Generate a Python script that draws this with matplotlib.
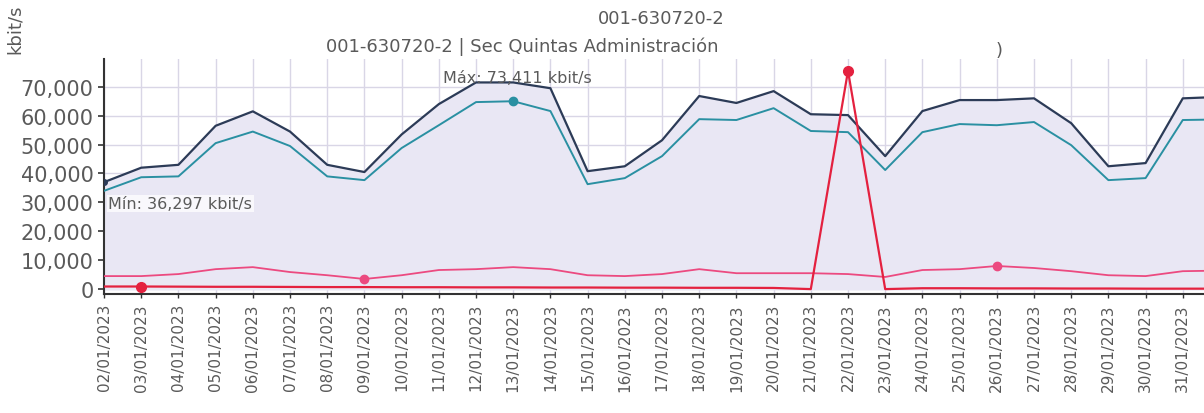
# traffic chart for 001-630720-2, January 2023
import numpy as np
import pandas as pd
from matplotlib import pyplot as plt
from matplotlib.ticker import FuncFormatter

plt.rcParams["font.family"] = "DejaVu Sans"

# colors
navy = "#2c3b57"
teal = "#2a90a2"
pink = "#ec4a80"
red = "#e4213f"
fillColor = "#e9e7f4"
textGray = "#5a5a5a"
gridColor = "#d9d6e6"

# data (kbit/s), 02/01/2023 .. 01/02/2023 (last point only runs off the right edge)
days = pd.date_range("2023-01-02", "2023-02-01").strftime("%d/%m/%Y").tolist()

total = [37000, 42000, 43000, 56500, 61500, 54500, 43000, 40500, 53500, 64000,
         71500, 71500, 69500, 40800, 42500, 51500, 66800, 64400, 68500, 60500,
         60200, 46000, 61600, 65400, 65400, 66000, 57400, 42500, 43600, 66000,
         66500]
inbound = [34000, 38700, 39000, 50500, 54500, 49500, 39000, 37700, 48800, 56700,
           64700, 65000, 61600, 36300, 38400, 46000, 58800, 58500, 62600, 54700,
           54300, 41200, 54300, 57100, 56700, 57800, 49800, 37700, 38400, 58500,
           58700]
outbound = [4500, 4500, 5200, 6900, 7600, 5900, 4800, 3500, 4800, 6600,
            6900, 7600, 6900, 4800, 4500, 5200, 6900, 5500, 5500, 5500,
            5200, 4200, 6600, 6900, 8000, 7300, 6200, 4800, 4500, 6200,
            6400]
other = [900, 900, 850, 800, 800, 750, 700, 700, 650, 650,
         600, 600, 550, 550, 500, 500, 450, 450, 400, 0,
         75500, 0, 300, 300, 250, 250, 200, 200, 150, 150,
         150]

x = np.arange(len(days))

fig = plt.figure(figsize=(12.04, 4.14), dpi=100)
ax = fig.add_axes([0.0864, 0.2874, 0.9136, 0.5676])

# area under the total line
ax.fill_between(x, 0, total, color=fillColor, zorder=1)

ax.plot(x, total, color=navy, linewidth=1.6, zorder=3)
ax.plot(x, inbound, color=teal, linewidth=1.4, zorder=3)
ax.plot(x, outbound, color=pink, linewidth=1.3, zorder=3)
ax.plot(x, other, color=red, linewidth=1.6, zorder=4)

# min / max markers
ax.plot(x[0], total[0], "o", color=navy, markersize=4, zorder=5)
ax.plot(x[11], inbound[11], "o", color=teal, markersize=6, zorder=5)
ax.plot([x[7], x[24]], [outbound[7], outbound[24]], "o", color=pink, markersize=6, zorder=5)
ax.plot([x[1], x[20]], [other[1], other[20]], "o", color=red, markersize=7, zorder=5)

# ticks, only the January days get a label (set before the limits so they do not widen them)
ax.set_yticks(np.arange(0, 70001, 10000))
ax.yaxis.set_major_formatter(FuncFormatter(lambda v, p: f"{int(v):,}"))
ax.set_xticks(x[:30])
ax.set_xticklabels(days[:30], rotation=90)
ax.tick_params(axis="y", labelsize=15, colors=textGray, length=4, width=1.2, direction="out")
ax.tick_params(axis="x", labelsize=11, colors=textGray, length=3, width=1, direction="out")
ax.tick_params(axis="both", color="#333333")

# axis limits
ax.set_xlim(0, 29.57)
ax.set_ylim(-1700, 79600)

# grid
ax.grid(color=gridColor, linewidth=1.0)
ax.set_axisbelow(True)

ax.spines[["right", "top"]].set_visible(False)
ax.spines["left"].set_color("#333333")
ax.spines["left"].set_linewidth(1.5)
ax.spines["bottom"].set_color("#333333")
ax.spines["bottom"].set_linewidth(1.5)

# labels for min / max
ax.text(0.12, 29600, "Mín: 36,297 kbit/s", fontsize=11.5, color=textGray,
        ha="left", va="center", zorder=6,
        bbox=dict(facecolor="white", edgecolor="none", alpha=0.75, pad=1))
ax.text(9.1, 73200, "Máx: 73,411 kbit/s", fontsize=11.5, color=textGray,
        ha="left", va="center", zorder=6)

# titles and axis label
fig.text(0.549, 0.955, "001-630720-2", fontsize=13, color=textGray, ha="center", va="center")
fig.text(0.434, 0.886, "001-630720-2 | Sec Quintas Administración", fontsize=13,
         color=textGray, ha="center", va="center")
fig.text(0.83, 0.878, ")", fontsize=13, color=textGray, ha="center", va="center")
fig.text(0.012, 0.93, "kbit/s", fontsize=13, color=textGray, rotation=90, ha="center", va="center")

plt.savefig("out.png", dpi=100)
